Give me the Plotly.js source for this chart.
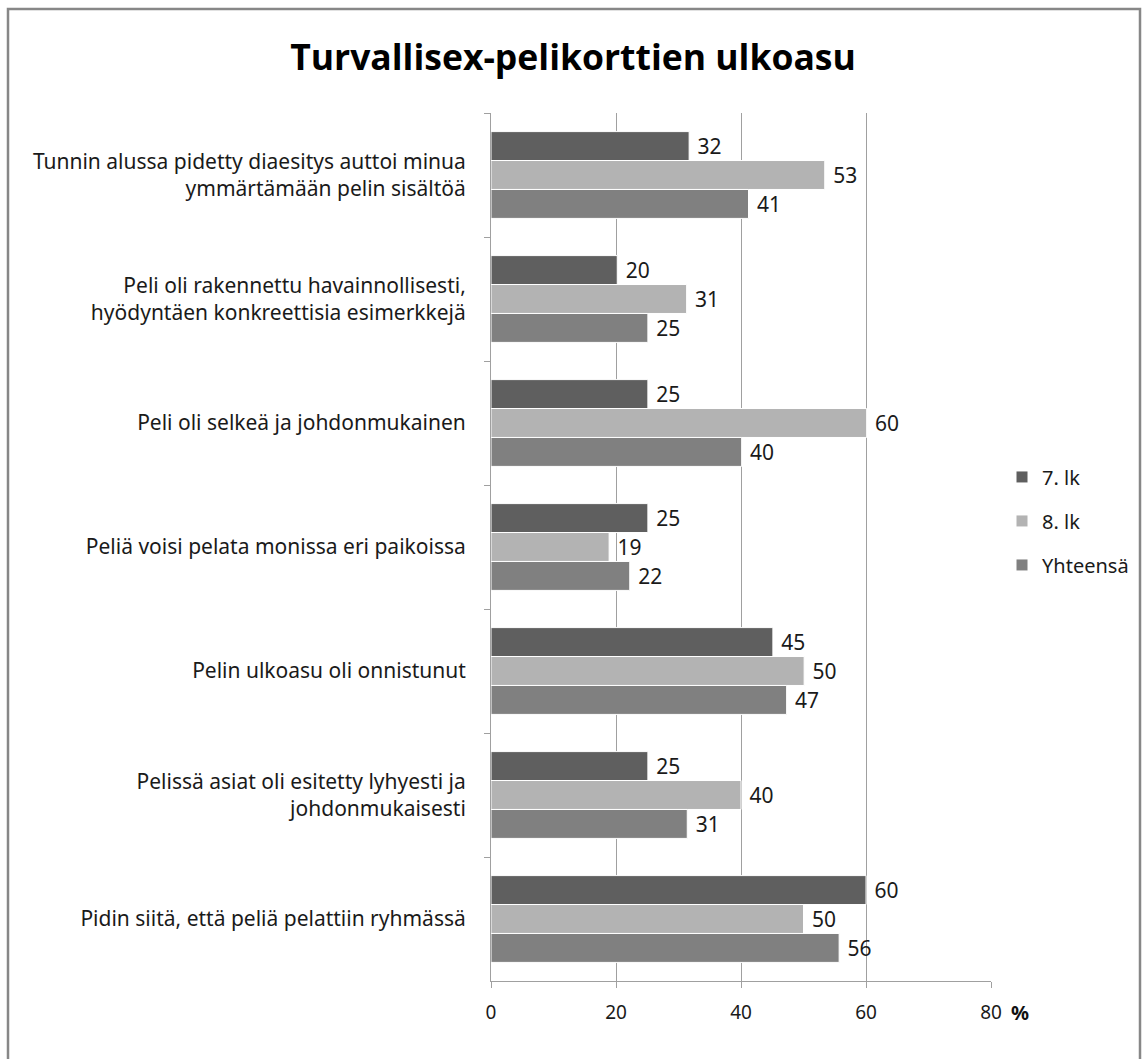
<!DOCTYPE html>
<html>
<head>
<meta charset="utf-8">
<script src="https://cdn.plot.ly/plotly-3.0.1.min.js"></script>
<style>
  html, body { margin: 0; padding: 0; background: #ffffff; }
  #chart { width: 1146px; height: 1059px; }
</style>
</head>
<body>
<div id="chart"></div>
<script>
const categories = [
  "Tunnin alussa pidetty diaesitys auttoi minua<br>ymmärtämään pelin sisältöä",
  "Peli oli rakennettu havainnollisesti,<br>hyödyntäen konkreettisia esimerkkejä",
  "Peli oli selkeä ja johdonmukainen",
  "Peliä voisi pelata monissa eri paikoissa",
  "Pelin ulkoasu oli onnistunut",
  "Pelissä asiat oli esitetty lyhyesti ja<br>johdonmukaisesti",
  "Pidin siitä, että peliä pelattiin ryhmässä"
];
const seriesNames = ["7. lk", "8. lk", "Yhteensä"];
const lk7 = [31.7, 20.2, 25.1, 25.1, 45.1, 25.1, 60.0];
const lk8 = [53.4, 31.3, 60.1, 18.9, 50.1, 40.0, 50.0];
const total = [41.2, 25.1, 40.1, 22.2, 47.3, 31.4, 55.7];
const colors = ["#5f5f5f", "#b3b3b3", "#808080"];
const xTicks = [0, 20, 40, 60, 80];

const FONT = "Noto Sans, Open Sans, sans-serif";
const allSeries = [lk7, lk8, total];

const traces = allSeries.map((vals, i) => ({
  type: "bar",
  orientation: "h",
  name: seriesNames[i],
  legendgroup: "g" + i,
  y: categories,
  x: vals,
  marker: { color: colors[i], line: { color: "#ffffff", width: 1 } },
  text: vals.map(v => "\u00a0" + Math.round(v)),
  textposition: "outside",
  cliponaxis: false,
  textfont: { family: FONT, size: 21, color: "#1a1a1a" },
  hoverinfo: "x+name"
}));

const layout = {
  width: 1146,
  height: 1059,
  paper_bgcolor: "#ffffff",
  plot_bgcolor: "#ffffff",
  font: { family: FONT, size: 20, color: "#1a1a1a" },
  title: {
    text: "<b>Turvallisex-pelikorttien ulkoasu</b>",
    font: { family: "Open Sans, Noto Sans, sans-serif", size: 35.5, color: "#000000" },
    x: 0.5, xanchor: "center",
    y: 0.946, yanchor: "middle"
  },
  margin: { l: 491, r: 155, t: 113, b: 78 },
  barmode: "group",
  bargap: 0.3,
  bargroupgap: 0,
  showlegend: true,
  legend: {
    x: 1.022, xanchor: "left",
    y: 0.53, yanchor: "middle",
    font: { family: FONT, size: 20, color: "#1a1a1a" },
    traceorder: "grouped",
    tracegroupgap: 15,
    itemwidth: 30
  },
  xaxis: {
    range: [0, 80],
    tickvals: xTicks,
    ticktext: xTicks.map(String),
    showgrid: true,
    gridcolor: "#a0a0a0",
    gridwidth: 1,
    showline: true,
    linecolor: "#a0a0a0",
    linewidth: 1,
    ticks: "outside",
    ticklen: 6,
    tickcolor: "#a0a0a0",
    zeroline: false,
    ticklabelstandoff: 8,
    tickfont: { family: FONT, size: 19, color: "#1a1a1a" },
    fixedrange: true
  },
  yaxis: {
    autorange: "reversed",
    showline: true,
    linecolor: "#a0a0a0",
    linewidth: 1,
    ticks: "outside",
    ticklen: 6,
    tickcolor: "#a0a0a0",
    tickson: "boundaries",
    showgrid: false,
    zeroline: false,
    ticklabelstandoff: 20,
    tickfont: { family: FONT, size: 21, color: "#1a1a1a" },
    fixedrange: true
  },
  annotations: [
    {
      text: "<b>%</b>",
      xref: "paper", yref: "paper",
      x: 1.058, y: -0.036,
      xanchor: "center", yanchor: "middle",
      showarrow: false,
      font: { family: FONT, size: 20, color: "#111111" }
    }
  ],
  shapes: [
    {
      type: "rect",
      xref: "paper", yref: "paper",
      x0: (8 - 491) / 500, x1: (1140 - 491) / 500,
      y0: -0.2, y1: (981 - 9) / 868,
      line: { color: "#878787", width: 2.5 },
      fillcolor: "rgba(0,0,0,0)",
      layer: "below"
    }
  ]
};

Plotly.newPlot("chart", traces, layout, { displayModeBar: false, staticPlot: true });
</script>
</body>
</html>
